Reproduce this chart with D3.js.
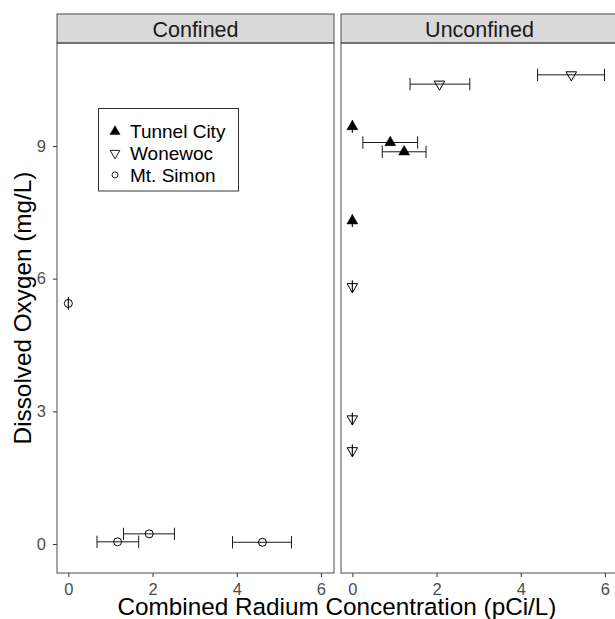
<!DOCTYPE html>
<html>
<head>
<meta charset="utf-8">
<script src="https://cdn.jsdelivr.net/npm/d3@7"></script>
<style>
  body { margin: 0; background: #fff; }
  svg { font-family: "Liberation Sans", Arial, Helvetica, sans-serif; }
</style>
</head>
<body>
<div id="chart"></div>
<script>
// facets and series
var panels = ["Confined", "Unconfined"];
var aquifers = ["Tunnel City", "Wonewoc", "Mt. Simon"];

// one entry per well sample
var samplePanel = ["Confined", "Confined", "Confined", "Confined",
  "Unconfined", "Unconfined", "Unconfined", "Unconfined",
  "Unconfined", "Unconfined", "Unconfined", "Unconfined", "Unconfined"];
var sampleAquifer = ["Mt. Simon", "Mt. Simon", "Mt. Simon", "Mt. Simon",
  "Tunnel City", "Tunnel City", "Tunnel City", "Tunnel City",
  "Wonewoc", "Wonewoc", "Wonewoc", "Wonewoc", "Wonewoc"];
var radium    = [0, 1.17, 1.92, 4.61, 0, 0.90, 1.23, 0, 2.07, 5.20, 0, 0, 0];
var radiumMin = [0, 0.68, 1.31, 3.90, 0, 0.25, 0.71, 0, 1.37, 4.40, 0, 0, 0];
var radiumMax = [0, 1.67, 2.52, 5.30, 0, 1.55, 1.75, 0, 2.79, 5.99, 0, 0, 0];
var oxygen    = [5.44, 0.05, 0.23, 0.04, 9.44, 9.08, 8.87, 7.31, 10.40, 10.61, 5.82, 2.83, 2.11];

var xTicks = [0, 2, 4, 6];
var yTicks = [0, 3, 6, 9];

var data = radium.map(function (r, i) {
  return {
    panel: samplePanel[i], aquifer: sampleAquifer[i],
    x: r, xmin: radiumMin[i], xmax: radiumMax[i], y: oxygen[i]
  };
});

var svgWidth = 615, svgHeight = 619;
var panelLeft = [57, 341], panelWidth = 277;
var stripTop = 14, panelTop = 43, panelBottom = 573;
var capHeight = 0.28;

var svg = d3.select("#chart").append("svg")
  .attr("width", svgWidth)
  .attr("height", svgHeight);

var yScale = d3.scaleLinear()
  .domain([-0.655, 11.33])
  .range([panelBottom, panelTop]);

function symbolFor(aquifer, small) {
  var k = small ? 0.85 : 1;
  if (aquifer === "Tunnel City") return d3.symbol().type(d3.symbolTriangle).size(52 * k)();
  if (aquifer === "Wonewoc") return d3.symbol().type(d3.symbolTriangle).size(48 * k)();
  var r = small ? 3.0 : 4.0;
  return d3.symbol().type(d3.symbolCircle).size(Math.PI * r * r)();
}

panels.forEach(function (name, p) {
  var x0 = panelLeft[p];
  var xScale = d3.scaleLinear()
    .domain([-0.27, 6.31])
    .range([x0, x0 + panelWidth]);

  var g = svg.append("g");

  // strip
  g.append("rect")
    .attr("x", x0).attr("y", stripTop)
    .attr("width", panelWidth).attr("height", panelTop - stripTop)
    .attr("fill", "#d9d9d9").attr("stroke", "#4d4d4d").attr("stroke-width", 1);
  g.append("text")
    .attr("x", x0 + panelWidth / 2).attr("y", 36.5)
    .attr("text-anchor", "middle")
    .attr("font-size", "21.5px").attr("fill", "#1a1a1a")
    .text(name);

  // x axis
  var xAxis = g.append("g")
    .attr("transform", "translate(0," + panelBottom + ")")
    .call(d3.axisBottom(xScale).tickValues(xTicks).tickFormat(d3.format("d"))
      .tickSize(4).tickPadding(6));
  xAxis.select(".domain").remove();
  xAxis.selectAll("line").attr("stroke", "#333");
  xAxis.selectAll("text").attr("font-size", "16.5px").attr("fill", "#4d4d4d")
    .attr("font-family", null);

  if (p === 0) {
    var yAxis = g.append("g")
      .attr("transform", "translate(" + x0 + ",0)")
      .call(d3.axisLeft(yScale).tickValues(yTicks).tickFormat(d3.format("d"))
        .tickSize(4).tickPadding(7));
    yAxis.select(".domain").remove();
    yAxis.selectAll("line").attr("stroke", "#333");
    yAxis.selectAll("text").attr("font-size", "16.5px").attr("fill", "#4d4d4d")
      .attr("font-family", null);
  }

  var rows = data.filter(function (d) { return d.panel === name; });

  // horizontal error bars
  var eb = g.selectAll("g.err").data(rows).enter().append("g")
    .attr("class", "err")
    .attr("stroke", "#1a1a1a").attr("stroke-width", 1).attr("fill", "none");
  eb.append("line")
    .attr("x1", function (d) { return xScale(d.xmin); })
    .attr("x2", function (d) { return xScale(d.xmax); })
    .attr("y1", function (d) { return yScale(d.y); })
    .attr("y2", function (d) { return yScale(d.y); });
  eb.append("line")
    .attr("x1", function (d) { return xScale(d.xmin); })
    .attr("x2", function (d) { return xScale(d.xmin); })
    .attr("y1", function (d) { return yScale(d.y + capHeight / 2); })
    .attr("y2", function (d) { return yScale(d.y - capHeight / 2); });
  eb.append("line")
    .attr("x1", function (d) { return xScale(d.xmax); })
    .attr("x2", function (d) { return xScale(d.xmax); })
    .attr("y1", function (d) { return yScale(d.y + capHeight / 2); })
    .attr("y2", function (d) { return yScale(d.y - capHeight / 2); });

  // points
  g.selectAll("path.pt").data(rows).enter().append("path")
    .attr("class", "pt")
    .attr("d", function (d) { return symbolFor(d.aquifer, false); })
    .attr("transform", function (d) {
      var t = "translate(" + xScale(d.x) + "," + yScale(d.y) + ")";
      return d.aquifer === "Wonewoc" ? t + " rotate(180)" : t;
    })
    .attr("fill", function (d) { return d.aquifer === "Tunnel City" ? "#000" : "none"; })
    .attr("stroke", "#000")
    .attr("stroke-width", function (d) { return d.aquifer === "Tunnel City" ? 0.5 : 1; });

  // panel border
  g.append("rect")
    .attr("x", x0).attr("y", panelTop)
    .attr("width", panelWidth).attr("height", panelBottom - panelTop)
    .attr("fill", "none").attr("stroke", "#4d4d4d").attr("stroke-width", 1);
});

// legend
var legend = svg.append("g");
legend.append("rect")
  .attr("x", 98.5).attr("y", 108.5)
  .attr("width", 140).attr("height", 82.5)
  .attr("fill", "#fff").attr("stroke", "#333").attr("stroke-width", 1);

var item = legend.selectAll("g.item").data(aquifers).enter().append("g")
  .attr("class", "item")
  .attr("transform", function (d, i) { return "translate(115," + (131.5 + i * 21.7) + ")"; });
item.append("path")
  .attr("d", function (d) { return symbolFor(d, true); })
  .attr("transform", function (d) { return d === "Wonewoc" ? "rotate(180)" : null; })
  .attr("fill", function (d) { return d === "Tunnel City" ? "#000" : "none"; })
  .attr("stroke", "#000")
  .attr("stroke-width", function (d) { return d === "Tunnel City" ? 0.5 : 0.9; });
item.append("text")
  .attr("x", 15).attr("dy", "0.36em")
  .attr("font-size", "19px").attr("fill", "#000")
  .text(function (d) { return d; });

// axis titles
svg.append("text")
  .attr("x", 337).attr("y", 614.5)
  .attr("text-anchor", "middle")
  .attr("font-size", "24.3px").attr("fill", "#000")
  .text("Combined Radium Concentration (pCi/L)");

svg.append("text")
  .attr("transform", "translate(31," + ((panelTop + panelBottom) / 2) + ") rotate(-90)")
  .attr("text-anchor", "middle")
  .attr("font-size", "24.3px").attr("fill", "#000")
  .text("Dissolved Oxygen (mg/L)");
</script>
</body>
</html>
